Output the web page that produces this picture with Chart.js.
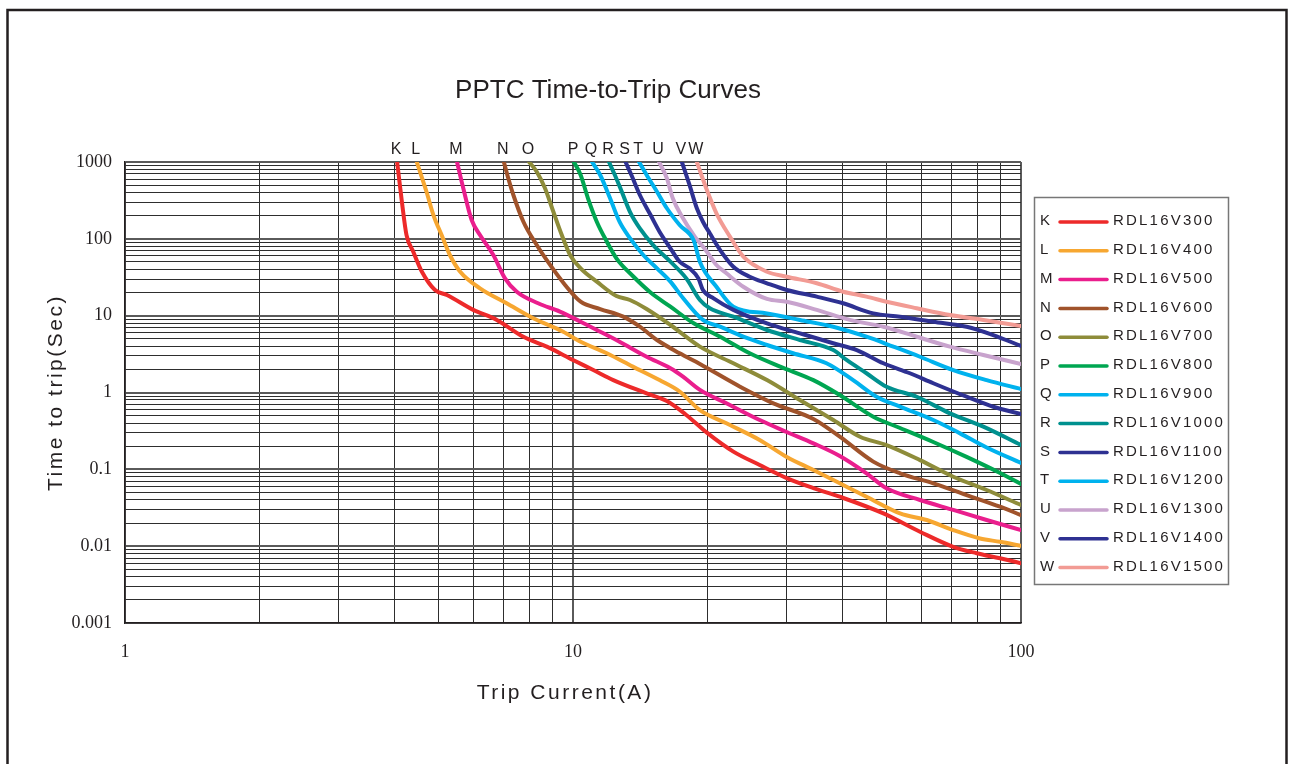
<!DOCTYPE html>
<html>
<head>
<meta charset="utf-8">
<title>PPTC Time-to-Trip Curves</title>
<script src="https://cdn.jsdelivr.net/npm/chart.js@4.4.1/dist/chart.umd.min.js"></script>
<style>
  html, body { margin: 0; padding: 0; background: #fff; }
  #wrap { width: 1290px; height: 764px; position: relative; }
</style>
</head>
<body>
<div id="wrap"><canvas id="tripChart"></canvas></div>
<script>
// labels
const chartTitle = 'PPTC Time-to-Trip Curves';
const xTitle = 'Trip Current(A)';
const yTitle = 'Time to trip(Sec)';
const letters = ['K', 'L', 'M', 'N', 'O', 'P', 'Q', 'R', 'S', 'T', 'U', 'V', 'W'];
const models = ['RDL16V300', 'RDL16V400', 'RDL16V500', 'RDL16V600', 'RDL16V700', 'RDL16V800', 'RDL16V900',
  'RDL16V1000', 'RDL16V1100', 'RDL16V1200', 'RDL16V1300', 'RDL16V1400', 'RDL16V1500'];
const lineColors = ['#ed2a2a', '#f7a731', '#ea1e8d', '#a0532b', '#8e8c3a', '#00a651', '#00b2ee',
  '#00918f', '#2e3192', '#00b2ee', '#c8a3cd', '#2e3192', '#f29b94'];
const xTickLabels = ['1', '10', '100'];
const yTickLabels = ['0.001', '0.01', '0.1', '1', '10', '100', '1000'];

// trip current (A) and time to trip (s)
const ampsK = [4.05, 4.15, 4.25, 4.40, 4.60, 4.92, 5.23, 5.99, 6.76, 7.75, 8.74, 10.0, 11.1, 12.3, 14.6, 16.2, 17.9, 19.9, 22.8, 26.1, 30.0, 34.4, 39.4, 49.3, 59.5, 70.6, 79.6, 89.8, 100];
const secsK = [1000, 304, 112, 68, 37.3, 21.6, 18.6, 11.9, 8.8, 5.3, 3.95, 2.65, 1.96, 1.45, 0.975, 0.775, 0.51, 0.30, 0.17, 0.114, 0.077, 0.057, 0.044, 0.0267, 0.0154, 0.0098, 0.0081, 0.00695, 0.006];
const ampsL = [4.48, 4.71, 4.88, 5.09, 5.31, 5.60, 6.20, 7.11, 8.15, 9.51, 10.4, 11.9, 13.6, 15.6, 17.3, 19.2, 22.0, 26.1, 30.0, 34.4, 39.4, 45.2, 53.7, 61.6, 70.6, 81.0, 89.8, 100];
const secsL = [1000, 410, 204, 112, 61.6, 37.3, 22.7, 14.5, 9.25, 6.18, 4.58, 3.24, 2.17, 1.45, 1.03, 0.59, 0.397, 0.241, 0.145, 0.098, 0.0658, 0.044, 0.0267, 0.0219, 0.0162, 0.0126, 0.0114, 0.0101];
const ampsM = [5.51, 5.69, 5.94, 6.20, 6.64, 7.05, 7.49, 8.36, 9.35, 10.4, 11.5, 12.7, 14.6, 16.5, 17.6, 19.2, 22.0, 26.1, 30.0, 34.4, 39.4, 45.2, 50.1, 59.5, 70.6, 83.8, 100];
const secsM = [1000, 455, 176, 112, 61.6, 30.6, 20.5, 14.5, 11.3, 8.34, 6.18, 4.58, 2.92, 2.07, 1.61, 1.08, 0.723, 0.438, 0.306, 0.218, 0.149, 0.0887, 0.0566, 0.0399, 0.0296, 0.0219, 0.0162];
const ampsN = [7.01, 7.17, 7.36, 7.75, 8.30, 8.89, 9.60, 10.4, 11.5, 12.95, 14.1, 15.4, 17.3, 19.2, 23.6, 28.0, 34.4, 39.4, 46.8, 53.7, 63.7, 75.6, 89.8, 100];
const secsN = [1000, 614, 372, 167, 83, 45.7, 25.1, 15.2, 12.2, 9.7, 7.18, 4.82, 3.24, 2.35, 1.19, 0.723, 0.452, 0.266, 0.126, 0.0887, 0.0658, 0.0463, 0.0326, 0.0254];
const ampsO = [7.98, 8.30, 8.66, 9.04, 9.44, 9.85, 10.4, 11.3, 12.5, 13.4, 14.6, 16.5, 19.2, 22.8, 27.1, 32.1, 38.1, 43.7, 50.1, 59.5, 70.6, 83.8, 100];
const secsO = [1000, 748, 455, 225, 112, 61.6, 41.3, 27.7, 18.0, 16.0, 12.2, 7.56, 3.95, 2.40, 1.45, 0.798, 0.438, 0.266, 0.207, 0.132, 0.080, 0.0538, 0.0343];
const ampsP = [10.05, 10.4, 10.8, 11.3, 11.9, 12.5, 13.6, 14.9, 16.5, 18.6, 21.3, 24.8, 29.0, 34.4, 39.4, 46.8, 53.7, 63.7, 75.6, 89.8, 100];
const secsP = [1000, 677, 337, 167, 91.8, 55.8, 32.8, 20.0, 13.1, 7.95, 5.32, 3.24, 2.17, 1.45, 0.927, 0.484, 0.345, 0.227, 0.145, 0.0895, 0.0644];
const ampsQ = [11.03, 11.5, 12.1, 12.7, 13.4, 14.35, 15.4, 16.5, 17.6, 19.5, 21.3, 24.0, 27.1, 31.0, 36.8, 42.2, 47.6, 53.7, 63.7, 73.1, 83.8, 100];
const secsQ = [1000, 677, 337, 167, 102, 61.6, 41.3, 27.7, 17.0, 8.8, 7.18, 5.32, 4.15, 3.24, 2.40, 1.45, 0.881, 0.653, 0.438, 0.294, 0.192, 0.121];
const ampsR = [12.03, 12.4, 12.85, 13.4, 14.1, 15.1, 16.5, 17.9, 19.2, 20.2, 22.8, 27.1, 32.1, 38.1, 40.8, 45.2, 50.1, 58.5, 69.4, 82.4, 100];
const secsR = [1000, 677, 410, 225, 137, 83, 50.4, 30.6, 16.0, 12.5, 9.7, 6.51, 4.82, 3.57, 2.65, 1.78, 1.19, 0.881, 0.536, 0.359, 0.207];
const ampsS = [13.1, 13.5, 14.1, 14.9, 15.6, 16.5, 17.3, 18.2, 19.05, 19.5, 20.6, 22.8, 27.1, 32.1, 38.1, 43.0, 49.3, 56.5, 63.7, 75.6, 86.7, 100];
const secsS = [1000, 677, 372, 204, 124, 75.3, 50.4, 41.3, 30.6, 21.6, 16.8, 11.9, 7.95, 5.89, 4.37, 3.57, 2.40, 1.78, 1.32, 0.881, 0.653, 0.525];
const ampsT = [14.04, 14.6, 15.4, 16.2, 17.3, 18.6, 19.2, 20.9, 22.8, 27.1, 32.1, 38.1, 45.2, 51.9, 59.5, 70.6, 83.8, 100];
const secsT = [1000, 677, 410, 250, 151, 95, 50, 23.8, 13.1, 10.7, 8.8, 7.18, 5.32, 3.95, 2.92, 1.96, 1.45, 1.11];
const ampsU = [15.56, 16.2, 16.7, 17.6, 18.6, 19.9, 20.9, 22.0, 24.0, 27.1, 30.0, 35.0, 41.5, 49.3, 58.5, 69.4, 82.4, 100];
const secsU = [1000, 614, 337, 185, 112, 68, 45.7, 35.6, 23.8, 16.5, 15.2, 11.9, 8.8, 7.18, 5.32, 3.95, 3.08, 2.35];
const ampsV = [17.5, 18.2, 18.9, 19.5, 20.2, 21.3, 22.8, 24.8, 27.1, 30.0, 35.0, 40.1, 46.8, 53.7, 63.7, 75.6, 86.7, 100];
const secsV = [1000, 502, 250, 167, 118, 71.5, 43.4, 32.1, 26.4, 21.6, 17.7, 14.5, 10.7, 9.7, 8.34, 7.18, 5.6, 4.03];
const ampsW = [18.9, 19.9, 20.9, 22.4, 24.0, 27.1, 30.0, 35.0, 40.1, 45.2, 50.1, 58.5, 69.4, 82.4, 100];
const secsW = [1000, 432, 215, 107, 58.5, 37.3, 32.1, 26.4, 20.5, 17.7, 15.2, 12.5, 10.2, 8.8, 7.33];

const ampsList = [ampsK, ampsL, ampsM, ampsN, ampsO, ampsP, ampsQ, ampsR, ampsS, ampsT, ampsU, ampsV, ampsW];
const secsList = [secsK, secsL, secsM, secsN, secsO, secsP, secsQ, secsR, secsS, secsT, secsU, secsV, secsW];

// 1..9 x 10^e grid lines (no 1.5 steps)
function logGrid(minExp, maxExp) {
  const out = [];
  for (let e = minExp; e < maxExp; e++) {
    for (let k = 1; k <= 9; k++) out.push(+(k * Math.pow(10, e)).toPrecision(10));
  }
  out.push(Math.pow(10, maxExp));
  return out;
}
function isDecade(v) {
  const l = Math.log10(v);
  return Math.abs(l - Math.round(l)) < 1e-6;
}

const datasets = letters.map(function(letter, i) {
  return {
    label: letter + ' ' + models[i],
    data: ampsList[i].map((a, j) => ({ x: a, y: secsList[i][j] })),
    borderColor: lineColors[i],
    backgroundColor: lineColors[i],
    borderWidth: 4,
    pointRadius: 0,
    fill: false,
    cubicInterpolationMode: 'monotone',
    borderJoinStyle: 'round',
    borderCapStyle: 'round',
  };
});

const gridColor = ctx => (ctx.tick && isDecade(ctx.tick.value)) ? '#5a5a5a' : '#2e2e2e';
const gridWidth = ctx => (ctx.tick && isDecade(ctx.tick.value)) ? 2 : 1;

const decor = {
  id: 'decor',
  beforeDraw(chart) {
    const c = chart.ctx;
    c.save();
    c.fillStyle = '#fff';
    c.fillRect(0, 0, chart.width, chart.height);
    c.strokeStyle = '#231f20';
    c.lineWidth = 2.5;
    c.strokeRect(7.5, 10, 1279, 790);
    c.restore();
  },
  afterDraw(chart) {
    const c = chart.ctx;
    const a = chart.chartArea;
    const xs = chart.scales.x;
    c.save();
    c.fillStyle = '#231f20';
    c.textAlign = 'center';
    c.textBaseline = 'alphabetic';
    c.font = '26px "Liberation Sans", Arial, sans-serif';
    c.fillText(chartTitle, 608, 98);

    // axis titles
    c.letterSpacing = '2.5px';
    c.font = '21px "Liberation Sans", Arial, sans-serif';
    c.textBaseline = 'middle';
    c.fillText(xTitle, 565, 693);
    c.save();
    c.translate(56, (a.top + a.bottom) / 2);
    c.rotate(-Math.PI / 2);
    c.fillText(yTitle, 0, 0);
    c.restore();

    // letters over the curve tops
    c.letterSpacing = '0px';
    c.font = '16px "Liberation Sans Narrow", "Liberation Sans", sans-serif';
    chart.data.datasets.forEach(function(ds, i) {
      const px = xs.getPixelForValue(ds.data[0].x);
      c.fillText(letters[i], px - 1, a.top - 12);
    });

    // legend box
    c.strokeStyle = '#777';
    c.lineWidth = 1.5;
    c.strokeRect(1034.5, 197.5, 194, 387);
    c.textAlign = 'left';
    c.font = '15px "Liberation Sans", Arial, sans-serif';
    letters.forEach(function(letter, i) {
      const y = 221 + i * 28.8;
      c.letterSpacing = '0px';
      c.fillStyle = '#231f20';
      c.fillText(letter, 1040, y);
      c.strokeStyle = lineColors[i];
      c.lineWidth = 3.5;
      c.lineCap = 'round';
      c.beginPath();
      c.moveTo(1060, y + 1);
      c.lineTo(1107, y + 1);
      c.stroke();
      c.letterSpacing = '2.2px';
      c.fillText(models[i], 1113, y);
    });
    c.restore();
  }
};

const ctx = document.getElementById('tripChart').getContext('2d');

const config = {
  type: 'line',
  data: { datasets: datasets },
  options: {
    responsive: true,
    maintainAspectRatio: false,
    animation: false,
    events: [],
    layout: { padding: { left: 10, top: 162, right: 269, bottom: 81 } },
    plugins: {
      legend: { display: false },
      tooltip: { enabled: false },
    },
    scales: {
      x: {
        type: 'logarithmic',
        min: 1,
        max: 100,
        afterBuildTicks: s => { s.ticks = logGrid(0, 2).map(v => ({ value: v })); },
        afterFit: s => { s.height = 60; },
        grid: { color: gridColor, lineWidth: gridWidth, drawTicks: false },
        border: { display: true, color: '#231f20', width: 1.5 },
        ticks: {
          autoSkip: false,
          maxRotation: 0,
          padding: 18,
          color: '#231f20',
          font: { family: '"Liberation Serif", "Times New Roman", serif', size: 18 },
          callback: v => isDecade(v) ? xTickLabels[Math.round(Math.log10(v))] : '',
        },
      },
      y: {
        type: 'logarithmic',
        min: 0.001,
        max: 1000,
        afterBuildTicks: s => { s.ticks = logGrid(-3, 3).map(v => ({ value: v })); },
        afterFit: s => { s.width = 115; },
        grid: { color: gridColor, lineWidth: gridWidth, drawTicks: false },
        border: { display: true, color: '#231f20', width: 1.5 },
        ticks: {
          autoSkip: false,
          padding: 13,
          color: '#231f20',
          font: { family: '"Liberation Serif", "Times New Roman", serif', size: 18 },
          callback: v => isDecade(v) ? yTickLabels[Math.round(Math.log10(v)) + 3] : '',
        },
      },
    },
  },
  plugins: [decor],
};

const tripChart = new Chart(ctx, config);
</script>
</body>
</html>
